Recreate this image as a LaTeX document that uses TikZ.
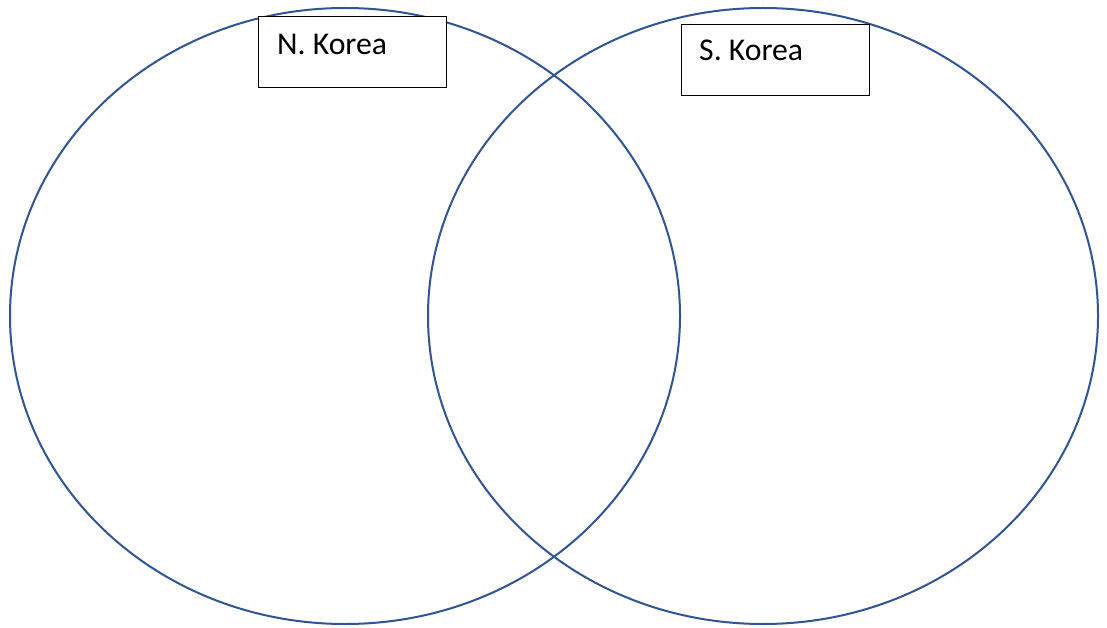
\documentclass[tikz,border=0pt]{standalone}
\usepackage{fontspec}
\setmainfont{Carlito}
\usetikzlibrary{positioning}
\definecolor{ringblue}{HTML}{2F5597}
\tikzset{
  ring/.style={draw=ringblue,line width=2pt},
  tagbox/.style={draw=black,fill=white,line width=1pt,inner sep=0pt,
    minimum width=188pt,minimum height=71pt},
  tagtext/.style={font=\fontsize{31.7}{38}\selectfont,inner sep=0pt,anchor=base west}
}
\begin{document}
\begin{tikzpicture}[x=1pt,y=-1pt]
  \useasboundingbox[fill=white] (0,0) rectangle (1107,628);
  % the two circles
  \draw[ring] (345,316) ellipse [x radius=335,y radius=308];
  \draw[ring] (763,316) ellipse [x radius=335,y radius=308];
  % labels
  \node[tagbox,anchor=north west] (north) at (258,16) {};
  \node[tagtext] (northtext) at (277,55) {N. Korea};
  \node[tagbox,anchor=north west] (south) at (681,24) {};
  \node[tagtext] (southtext) at (699,61) {S. Korea};
\end{tikzpicture}
\end{document}
